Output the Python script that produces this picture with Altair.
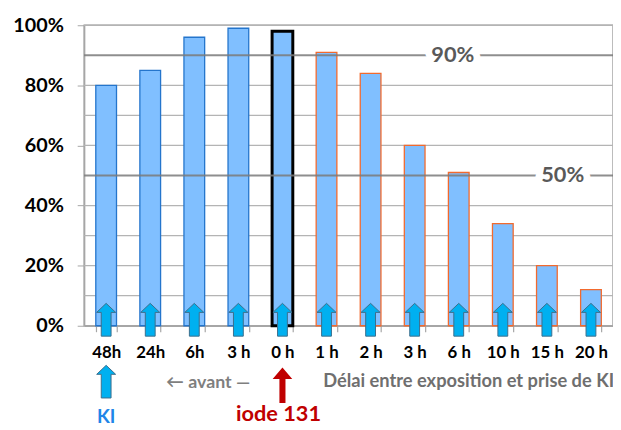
import altair as alt
import pandas as pd

# ---------------- data ----------------
cat_ids = ["m48", "m24", "m6", "m3", "z0", "p1", "p2", "p3", "p6", "p10", "p15", "p20"]
cat_labels = ["48h", "24h", "6h", "3 h", "0 h", "1 h", "2 h", "3 h", "6 h", "10 h", "15 h", "20 h"]
values = [80, 85, 96, 99, 98, 91, 84, 60, 51, 34, 20, 12]
groups = ["avant"] * 4 + ["zero"] + ["apres"] * 7

grid_values = [10, 20, 30, 40, 60, 70, 80, 100]
ref_values = [90, 50]
ref_labels = ["90%", "50%"]
ref_anchor = ["p6", "p15"]

arrow_level = 2.0  # small arrows drawn at bottom of every bar

FONT = "Lato"

df = pd.DataFrame({"cat": cat_ids, "val": values, "grp": groups,
                   "ay": [arrow_level] * len(cat_ids)})
ref_df = pd.DataFrame({"y": ref_values, "lab": ref_labels, "cat": ref_anchor})
grid_df = pd.DataFrame({"gv": grid_values})

label_expr = ""
for cid, lab in zip(cat_ids, cat_labels):
    label_expr += f"datum.value == '{cid}' ? '{lab}' : "
label_expr += "''"

ARROW = "M0,-1 L0.58,-0.45 L0.3,-0.45 L0.3,1 L-0.3,1 L-0.3,-0.45 L-0.58,-0.45 Z"
ARROW_RED = "M0,-1 L0.55,-0.35 L0.17,-0.35 L0.17,1 L-0.17,1 L-0.17,-0.35 L-0.55,-0.35 Z"

xscale = alt.Scale(domain=cat_ids, paddingInner=0.53, paddingOuter=0.265)
yscale = alt.Scale(domain=[0, 100], nice=False)

x_axis = alt.Axis(labelExpr=label_expr, labelAngle=0, labelFont=FONT,
                  labelFontSize=17, labelFontWeight="bold", labelColor="#000000",
                  labelPadding=13, tickSize=6, tickColor="#a6a6a6", tickWidth=1.2,
                  tickBand="extent", domainColor="#a6a6a6", domainWidth=1.5,
                  grid=False, title=None)
y_axis = alt.Axis(values=list(range(0, 101, 20)),
                  labelExpr="datum.value + '%'",
                  labelFont=FONT, labelFontSize=20, labelFontWeight="bold",
                  labelColor="#000000", labelPadding=14, tickSize=7,
                  tickColor="#a6a6a6", domainColor="#a6a6a6", domainWidth=1.5,
                  grid=False, title=None)


def X(field="cat"):
    return alt.X(f"{field}:N", scale=xscale, sort=cat_ids, axis=x_axis)


def Y(field):
    return alt.Y(f"{field}:Q", scale=yscale, axis=y_axis)


# gridlines as very thin full-width rectangles
grid = alt.Chart(grid_df).transform_calculate(
    glo="datum.gv - 0.22", ghi="datum.gv + 0.22"
).mark_rect(color="#b4b4b4", opacity=1).encode(
    y=Y("glo"),
    y2="ghi:Q",
)

bars = alt.Chart(df).mark_bar(fill="#80bfff").encode(
    x=X(), y=Y("val"),
    stroke=alt.Stroke("grp:N", scale=alt.Scale(domain=["avant", "zero", "apres"],
                                               range=["#2475cc", "#000000", "#f26a2e"]),
                      legend=None),
    strokeWidth=alt.condition("datum.grp == 'zero'", alt.value(3), alt.value(1.3)),
)

rules = alt.Chart(ref_df).mark_rule(color="#7a7a7a", strokeWidth=2, opacity=0.85).encode(
    y=Y("y")
)


def ref_label(lab, dx, halo):
    if halo:
        mk = dict(color="white", stroke="white", strokeWidth=14)
    else:
        mk = dict(color="#595959")
    return alt.Chart(ref_df).transform_filter(f"datum.lab == '{lab}'").mark_text(
        font=FONT, fontSize=22, fontWeight="bold", baseline="middle", dx=dx, **mk
    ).encode(x=X(), y=Y("y"), text="lab:N")


arrows = alt.Chart(df).mark_point(shape=ARROW, filled=True, fill="#00b0f0",
                                  stroke="#3d6e8c", strokeWidth=1, size=1100,
                                  opacity=1).encode(x=X(), y=Y("ay"))

# annotations below the axis
ann_df = pd.DataFrame({
    "cat": ["m48", "z0", "m6", "p6", "m48", "z0"],
    "y": [-30.5, -29.5, -19, -18.5, -18.6, -19.8],
    "txt": ["KI", "iode 131", "\u2190  avant  \u2014", "Délai entre exposition et prise de KI", "", ""],
    "kind": ["ki", "iode", "avant", "delai", "blue_arrow", "red_arrow"],
})


def ann_text(kind, color, size, dx=0):
    return alt.Chart(ann_df).transform_filter(f"datum.kind == '{kind}'").mark_text(
        font=FONT, fontSize=size, fontWeight="bold", color=color, baseline="middle", dx=dx
    ).encode(x=X(), y=Y("y"), text="txt:N")


ki_text = ann_text("ki", "#1f86e8", 19)
iode_text = ann_text("iode", "#c00000", 22, dx=-4)
avant_text = ann_text("avant", "#7f7f7f", 18, dx=14)
delai_text = ann_text("delai", "#6f6f6f", 18.5, dx=10)

blue_arrow = alt.Chart(ann_df).transform_filter("datum.kind == 'blue_arrow'").mark_point(
    shape=ARROW, filled=True, fill="#00b0f0", stroke="#3d6e8c", strokeWidth=1,
    size=1090, opacity=1).encode(x=X(), y=Y("y"))
red_arrow = alt.Chart(ann_df).transform_filter("datum.kind == 'red_arrow'").mark_point(
    shape=ARROW_RED, filled=True, fill="#c00000", strokeWidth=0,
    size=1300, opacity=1, dx=-2).encode(x=X(), y=Y("y"))

chart = alt.layer(
    grid, bars, rules,
    ref_label("90%", -6, True), ref_label("50%", 16, True),
    ref_label("90%", -6, False), ref_label("50%", 16, False),
    arrows, blue_arrow, red_arrow, ki_text, iode_text, avant_text, delai_text
).properties(
    width=535, height=304,
    autosize=alt.AutoSizeParams(type="none"),
    padding={"left": 77, "top": 15, "right": 0, "bottom": 103},
    background="white",
).configure_view(stroke="#a6a6a6", strokeWidth=1.5)

chart.save("out.html", embed_options={"renderer": "svg", "actions": False})
